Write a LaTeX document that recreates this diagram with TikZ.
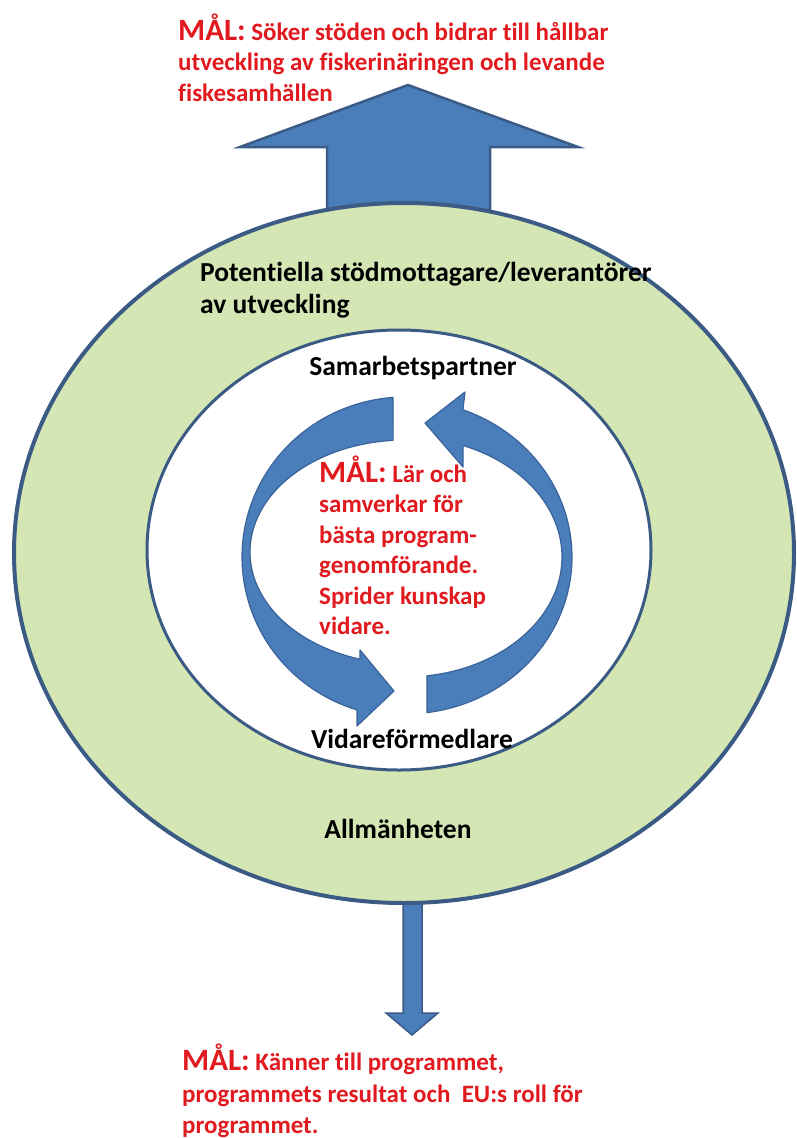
\documentclass[tikz,border=0pt]{standalone}
\usepackage{fontspec}
\setmainfont{Carlito}[Ligatures=NoCommon]
\definecolor{ringgreen}{HTML}{D3E6B4}
\definecolor{edgeblue}{HTML}{3B5B85}
\definecolor{arrowblue}{HTML}{4A7EBB}
\definecolor{arrowedge}{HTML}{3A6399}
\definecolor{maalred}{HTML}{E01A1E}
\newcommand\maalword{{\fontsize{31}{36}\selectfont MÅL:}}
\tikzset{
  redtxt/.style={anchor=base west, inner sep=0pt, text=maalred, font=\fontsize{25}{30}\selectfont\bfseries},
  blktxt/.style={inner sep=0pt, text=black, font=\fontsize{27.5}{32}\selectfont\bfseries},
  bigarrow/.style={fill=arrowblue, draw=edgeblue, line width=2.5pt, line join=miter},
  circarrow/.style={fill=arrowblue, draw=arrowedge, line width=1.2pt, line join=round},
}
\begin{document}
\begin{tikzpicture}[x=1pt,y=-1pt]
\useasboundingbox (0,0) rectangle (796,1138);
\fill[white] (0,0) rectangle (796,1138);
% big arrows
\draw[bigarrow] (327,230) -- (327,147) -- (240,147) -- (408,85) -- (578,147) -- (490,147) -- (490,230) -- cycle;
\draw[bigarrow, line width=1.5pt] (403,880) -- (403,1013) -- (386,1013) -- (412,1035) -- (438,1013) -- (422,1013) -- (422,880) -- cycle;
% rings
\draw[fill=ringgreen, draw=edgeblue, line width=4pt] (404,553) ellipse [x radius=390, y radius=350];
\draw[fill=white, draw=edgeblue, line width=3pt] (399,550) ellipse [x radius=252, y radius=220];
% circular arrows
\draw[circarrow] plot[domain=265.8:107.1,samples=80] ({405+163*cos(\x)},{557+160*sin(\x)})
  -- (357,726) -- (394,691) -- (360,650)
  -- plot[domain=106.9:265.6,samples=80] ({405+155*cos(\x)},{552+112*sin(\x)}) -- cycle;
\draw[circarrow] plot[domain=82.4:-69.7,samples=80] ({405+167*cos(\x)},{557+157*sin(\x)})
  -- (465,392) -- (425,423) -- (463,467)
  -- plot[domain=-68.3:81.95,samples=80] ({405+157*cos(\x)},{557+120*sin(\x)}) -- cycle;
% top goal
\node[redtxt] (top1) at (178,40) {\maalword{} Söker stöden och bidrar till hållbar};
\node[redtxt] (top2) at (178,70.5) {utveckling av fiskerinäringen och levande};
\node[redtxt] (top3) at (178,101) {fiskesamhällen};
% ring labels
\node[blktxt, anchor=base west] (pot1) at (200,281) {Potentiella stödmottagare/leverantörer};
\node[blktxt, anchor=base west] (pot2) at (200,313) {av utveckling};
\node[blktxt, anchor=base] (samarb) at (413,375) {Samarbetspartner};
\node[blktxt, anchor=base] (vidare) at (412,748) {Vidareförmedlare};
\node[blktxt, anchor=base] (allm) at (398,838) {Allmänheten};
% middle goal
\node[redtxt] (mid1) at (319,482) {\maalword{} Lär och};
\node[redtxt] (mid2) at (319,512.5) {samverkar för};
\node[redtxt] (mid3) at (319,543) {bästa program-};
\node[redtxt] (mid4) at (319,573.5) {genomförande.};
\node[redtxt] (mid5) at (319,604) {Sprider kunskap};
\node[redtxt] (mid6) at (319,634.5) {vidare.};
% bottom goal
\node[redtxt] (bot1) at (182,1070) {\maalword{} Känner till programmet,};
\node[redtxt] (bot2) at (182,1102) {programmets resultat och\ \ EU:s roll för};
\node[redtxt] (bot3) at (182,1133) {programmet.};
\end{tikzpicture}
\end{document}
